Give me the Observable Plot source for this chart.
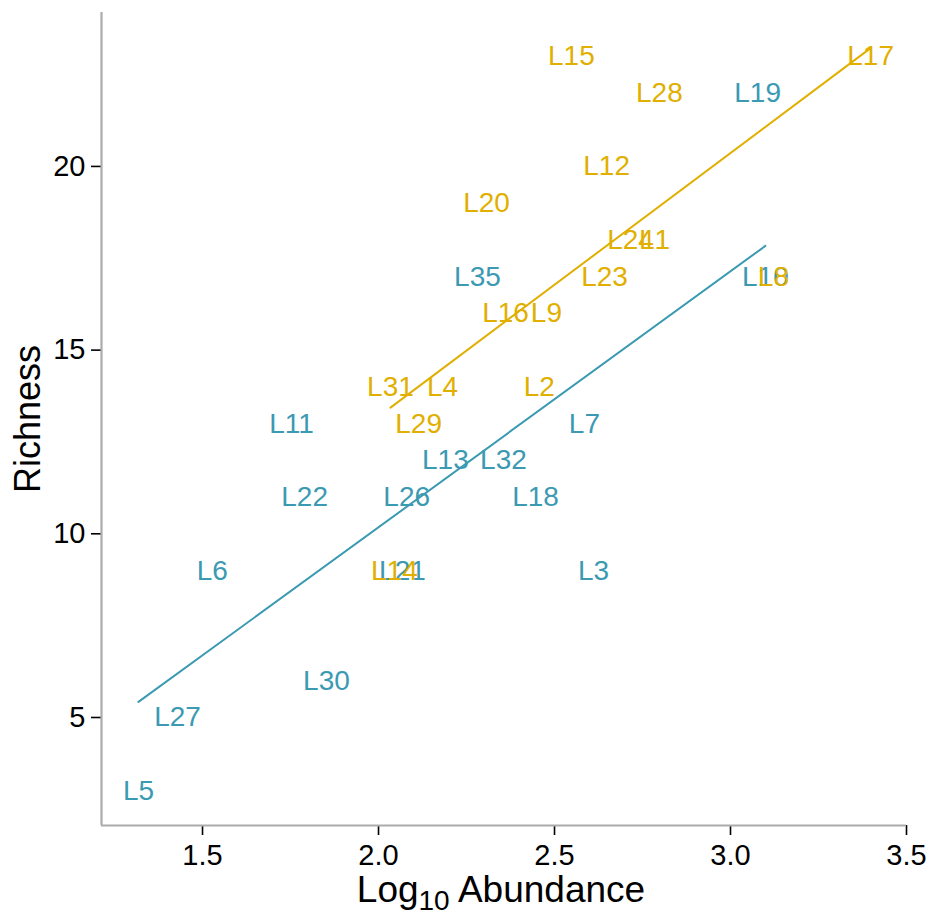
<!DOCTYPE html>
<html>
<head>
<meta charset="utf-8">
<script src="https://cdn.jsdelivr.net/npm/d3@7"></script>
<script src="https://cdn.jsdelivr.net/npm/@observablehq/plot@0.6"></script>
<style>
  html, body { margin: 0; padding: 0; background: #fff; }
</style>
</head>
<body>
<div id="chart"></div>
<script>
// ---- data ----
const labels = ["L19","L10","L35","L11","L7","L13","L32","L22","L26","L18","L6","L21","L3","L30","L27","L5",
                "L15","L17","L28","L12","L20","L24","L1","L23","L8","L16","L9","L31","L4","L2","L29","L14"];
const logAbundance = [3.077,3.099,2.281,1.753,2.585,2.190,2.355,1.790,2.080,2.446,1.528,2.068,2.611,1.852,1.429,1.318,
                      2.548,3.398,2.798,2.648,2.307,2.716,2.784,2.642,3.122,2.361,2.477,2.034,2.182,2.457,2.114,2.045];
const richness = [22,17,17,13,13,12,12,11,11,11,9,9,9,6,5,3,
                  23,23,22,20,19,18,18,17,17,16,16,14,14,14,13,9];
const groups = ["A","A","A","A","A","A","A","A","A","A","A","A","A","A","A","A",
                "B","B","B","B","B","B","B","B","B","B","B","B","B","B","B","B"];
const groupNames = ["A","B"];
const groupColors = ["#3B9AB2","#E1AF00"];
const xTicks = [1.5,2.0,2.5,3.0,3.5];
const yTicks = [5,10,15,20];
const xDomain = [1.213, 3.5];
const yDomain = [2.06, 24.19];

const data = labels.map((l,i) => ({label:l, x:logAbundance[i], y:richness[i], g:groups[i]}));

const W = 934, H = 918;
const chart = Plot.plot({
  width: W,
  height: H,
  marginLeft: 101,
  marginRight: 28,
  marginTop: 12,
  marginBottom: 93,
  style: {fontFamily: "'Liberation Sans', Arial, Helvetica, sans-serif", fontSize: "29px", color: "#000", background: "#fff"},
  x: {domain: xDomain},
  y: {domain: yDomain},
  color: {domain: groupNames, range: groupColors},
  marks: [
    Plot.axisX({ticks: xTicks, tickFormat: d3.format(".1f"), tickSize: 10, tickPadding: 9, strokeWidth: 1.6, label: null, fontSize: 29}),
    Plot.axisY({ticks: yTicks, tickSize: 10, tickPadding: 6, strokeWidth: 1.6, label: null, fontSize: 29}),
    Plot.ruleX([xDomain[0]], {stroke: "#ababab", strokeWidth: 2.2}),
    Plot.ruleY([yDomain[0]], {stroke: "#ababab", strokeWidth: 2.2}),
    Plot.linearRegressionY(data, {x: "x", y: "y", stroke: "g", ci: 0, strokeWidth: 2}),
    Plot.text(data, {x: "x", y: "y", text: "label", fill: "g", fontSize: 28}),
    Plot.text(["Richness"], {frameAnchor: "left", textAnchor: "middle", rotate: -90, dx: -73, fontSize: 36, fill: "#000"})
  ]
});
document.getElementById("chart").appendChild(chart);

// x-axis title with a real subscript
const svg = d3.select(chart.tagName.toLowerCase() === "svg" ? chart : chart.querySelector("svg"));
const t = svg.append("text")
  .attr("x", 501)
  .attr("y", 902)
  .attr("text-anchor", "middle")
  .attr("font-size", 37)
  .attr("fill", "#000")
  .attr("font-family", "'Liberation Sans', Arial, Helvetica, sans-serif");
t.append("tspan").text("Log");
t.append("tspan").attr("font-size", 28).attr("dy", 8).text("10");
t.append("tspan").attr("dy", -8).text(" Abundance");
</script>
</body>
</html>
